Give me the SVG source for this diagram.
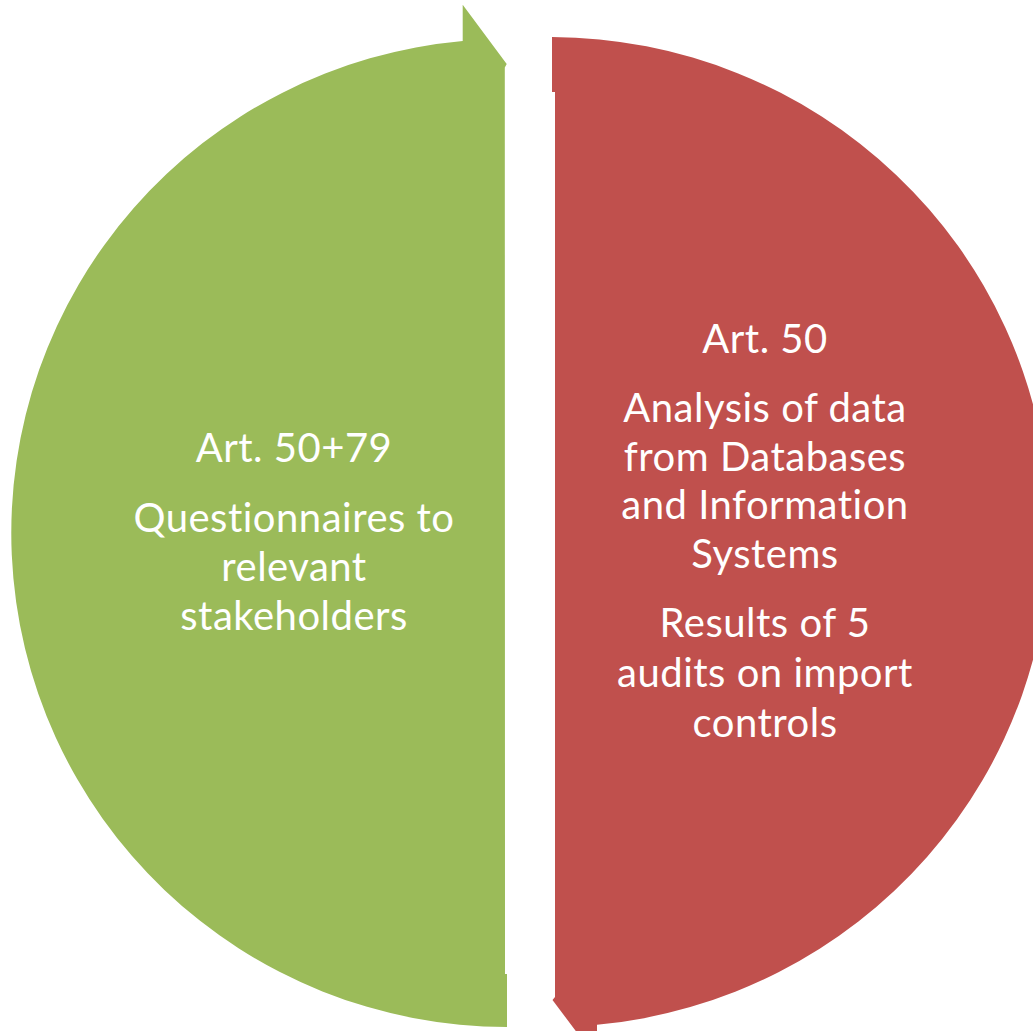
<svg xmlns="http://www.w3.org/2000/svg" width="1033" height="1031" viewBox="0 0 1033 1031">
<style>
.lbl{font-family:Lato,"Noto Sans","Liberation Sans",sans-serif;font-size:40px;letter-spacing:0.5px;font-variant-ligatures:none;fill:#FFFFFF;text-anchor:middle}
</style>
<rect x="0" y="0" width="1033" height="1031" fill="#FFFFFF"/>
<g id="node-green">
<path d="M 462.7 41 L 462.7 4.7 L 506.7 64 L 504.8 67.5 L 505 974 L 507 974 L 507 1027 A 496 494 0 0 1 462.7 41 Z" fill="#9BBB59"/>
<text class="lbl" x="294" y="461.7">Art. 50+79</text>
<text class="lbl" x="294" y="531.7">Questionnaires to</text>
<text class="lbl" x="294" y="580.5">relevant</text>
<text class="lbl" x="294" y="629.5">stakeholders</text>
</g>
<g id="node-red">
<path d="M 552 37 A 500 495 0 0 1 597 1024.8 L 597 1059.3 L 552.5 1000 L 555 997 L 555 92 L 552 92 Z" fill="#C0504D"/>
<text class="lbl" x="765" y="353.3">Art. 50</text>
<text class="lbl" x="765" y="421.7">Analysis of data</text>
<text class="lbl" x="765" y="470.5">from Databases</text>
<text class="lbl" x="765" y="519.3">and Information</text>
<text class="lbl" x="765" y="568.3">Systems</text>
<text class="lbl" x="765" y="637.3">Results of 5</text>
<text class="lbl" x="765" y="687">audits on import</text>
<text class="lbl" x="765" y="736.5">controls</text>
</g>
<g id="connectors"></g>
</svg>
